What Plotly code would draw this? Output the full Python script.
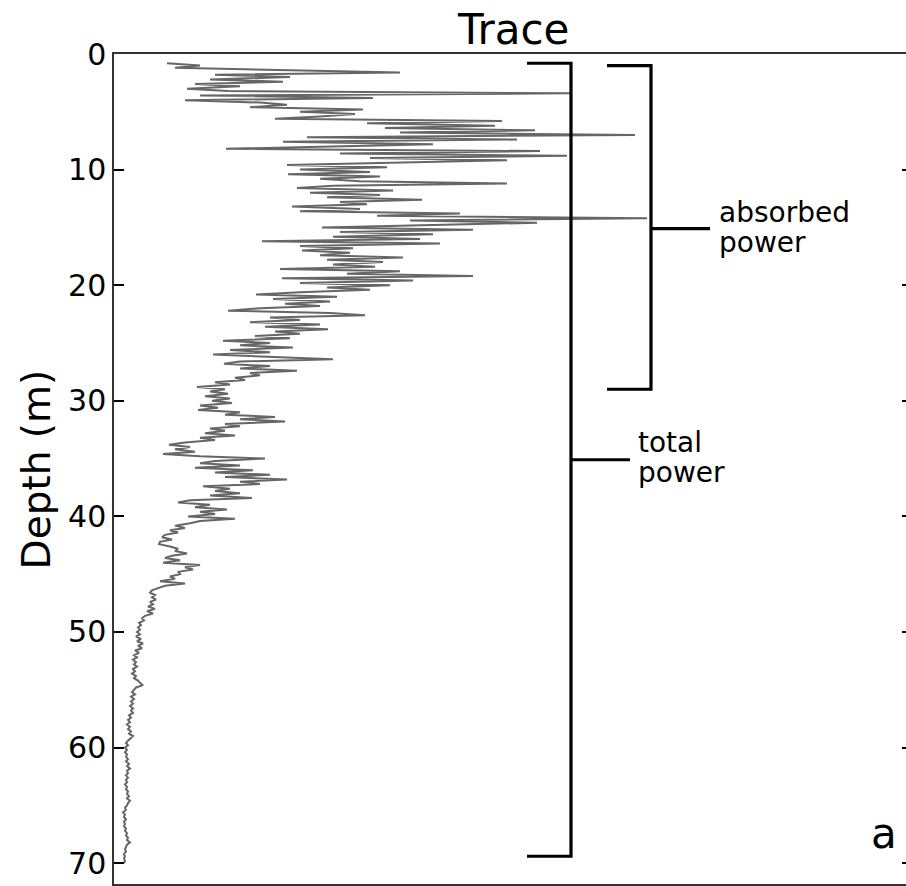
import numpy as np
import plotly.graph_objects as go

# ---- data ----
depth_start = 0.8
depth_step = 0.2
amplitude = [
    53, 86, 61, 176, 286, 101, 176, 96, 169, 81,
    126, 73, 114, 456, 86, 259, 71, 146, 173, 136,
    249, 186, 241, 206, 161, 388, 253, 381, 271, 421,
    286, 521, 193, 403, 169, 319, 216, 112, 426, 226,
    453, 256, 393, 266, 173, 273, 186, 256, 174, 266,
    206, 246, 393, 219, 183, 279, 196, 266, 213, 308,
    226, 253, 178, 246, 186, 346, 263, 533, 296, 423,
    306, 208, 359, 226, 319, 219, 306, 148, 326, 186,
    239, 188, 236, 206, 289, 213, 269, 219, 261, 166,
    286, 233, 359, 168, 299, 186, 276, 213, 256, 186,
    142, 223, 159, 216, 171, 206, 146, 114, 216, 251,
    156, 186, 136, 206, 151, 214, 161, 186, 141, 176,
    109, 156, 126, 179, 116, 156, 99, 166, 219, 126,
    110, 156, 126, 183, 136, 146, 121, 131, 101, 116,
    83, 111, 96, 114, 91, 116, 98, 118, 86, 104,
    84, 126, 111, 161, 126, 171, 111, 126, 96, 111,
    91, 121, 86, 101, 71, 55, 76, 61, 81, 49,
    86, 151, 101, 86, 126, 81, 139, 101, 156, 111,
    173, 126, 146, 89, 116, 101, 126, 96, 138, 76,
    64, 96, 81, 113, 86, 101, 74, 121, 86, 76,
    61, 71, 56, 64, 51, 48, 58, 46, 45, 56,
    64, 61, 73, 58, 51, 66, 49, 86, 71, 79,
    64, 66, 56, 61, 46, 71, 51, 44, 38, 36,
    41, 38, 42, 36, 39, 34, 41, 33, 39, 31,
    28, 30, 25, 27, 24, 26, 23, 26, 22, 27,
    23, 29, 24, 28, 21, 25, 20, 23, 19, 22,
    20, 23, 19, 21, 18, 22, 20, 24, 26, 29,
    22, 20, 18, 21, 17, 20, 17, 19, 16, 19,
    17, 19, 15, 17, 14, 16, 13, 16, 14, 17,
    15, 19, 16, 14, 12, 14, 11, 13, 11, 13,
    12, 14, 12, 15, 13, 16, 13, 14, 12, 14,
    12, 13, 11, 13, 12, 14, 13, 15, 13, 16,
    14, 13, 11, 12, 9, 11, 10, 12, 10, 11,
    10, 12, 11, 13, 12, 14, 13, 16, 13, 12,
    11, 12, 10, 11, 10, 11, 10,
]
depth = np.round(depth_start + depth_step * np.arange(len(amplitude)), 2)

y_ticks = [0, 10, 20, 30, 40, 50, 60, 70]

# brackets: name, top depth, bottom depth, mid depth, arm start x, spine x, tick end x
bracket_names = ["total power", "absorbed power"]
bracket_top = [0.8, 1.0]
bracket_bottom = [69.4, 29.0]
bracket_mid = [35.1, 15.1]
bracket_arm_x = [413, 493]
bracket_spine_x = [457, 537]
bracket_tick_x = [516, 596]

FONT = "DejaVu Sans"

fig = go.Figure()
fig.add_trace(go.Scatter(
    x=amplitude, y=depth, mode="lines",
    line=dict(color="#666666", width=2.0),
    showlegend=False, hoverinfo="skip",
))

for i in range(len(bracket_names)):
    bx = [bracket_arm_x[i], bracket_spine_x[i], bracket_spine_x[i], bracket_arm_x[i]]
    by = [bracket_top[i], bracket_top[i], bracket_bottom[i], bracket_bottom[i]]
    fig.add_trace(go.Scatter(x=bx, y=by, mode="lines",
                             line=dict(color="black", width=3.2),
                             showlegend=False, hoverinfo="skip"))
    fig.add_trace(go.Scatter(x=[bracket_spine_x[i], bracket_tick_x[i]],
                             y=[bracket_mid[i], bracket_mid[i]], mode="lines",
                             line=dict(color="black", width=3.2),
                             showlegend=False, hoverinfo="skip"))

# dummy for right-side ticks
fig.add_trace(go.Scatter(x=[], y=[], yaxis="y2", showlegend=False))

ann = []
ann.append(dict(text="absorbed", x=603, y=13.7, xref="x", yref="y",
                xanchor="left", yanchor="middle", showarrow=False,
                font=dict(family=FONT, size=28, color="black")))
ann.append(dict(text="power", x=603, y=16.3, xref="x", yref="y",
                xanchor="left", yanchor="middle", showarrow=False,
                font=dict(family=FONT, size=28, color="black")))
ann.append(dict(text="total", x=522, y=33.6, xref="x", yref="y",
                xanchor="left", yanchor="middle", showarrow=False,
                font=dict(family=FONT, size=28, color="black")))
ann.append(dict(text="power", x=522, y=36.2, xref="x", yref="y",
                xanchor="left", yanchor="middle", showarrow=False,
                font=dict(family=FONT, size=28, color="black")))
ann.append(dict(text="a", x=770, y=67.4, xref="x", yref="y",
                xanchor="center", yanchor="middle", showarrow=False,
                font=dict(family=FONT, size=42, color="black")))
ann.append(dict(text="Depth (m)", x=-0.098, y=0.5, xref="paper", yref="paper",
                xanchor="center", yanchor="middle", showarrow=False, textangle=-90,
                font=dict(family=FONT, size=39, color="black")))

fig.update_layout(
    width=906, height=886,
    margin=dict(l=114, r=0, t=54, b=2),
    paper_bgcolor="white", plot_bgcolor="white",
    title=dict(text="Trace", x=0.567, xref="container", xanchor="center",
               y=0.967, yref="container", yanchor="middle",
               font=dict(family=FONT, size=42, color="black")),
    xaxis=dict(range=[0, 792], showgrid=False, zeroline=False,
               showticklabels=False, ticks="", showline=True, mirror=True,
               linecolor="#333333", linewidth=1.5),
    yaxis=dict(range=[71.8, 0], showgrid=False, zeroline=False,
               tickvals=y_ticks, ticks="inside", ticklen=10, tickwidth=1.5,
               tickcolor="black", showline=True, linecolor="#333333", linewidth=1.5,
               tickfont=dict(family=FONT, size=30, color="black")),
    yaxis2=dict(range=[71.8, 0], overlaying="y", side="right", showgrid=False,
                zeroline=False, tickvals=y_ticks, ticks="inside", ticklen=4,
                tickwidth=1.5, tickcolor="black", showticklabels=False,
                showline=False),
    annotations=ann,
)

# remove the default 8px page margin so the figure fills the window exactly
fig.write_html(
    "out.html",
    config={"displayModeBar": False},
    post_script="document.body.style.margin='0';document.body.style.overflow='hidden';",
)
